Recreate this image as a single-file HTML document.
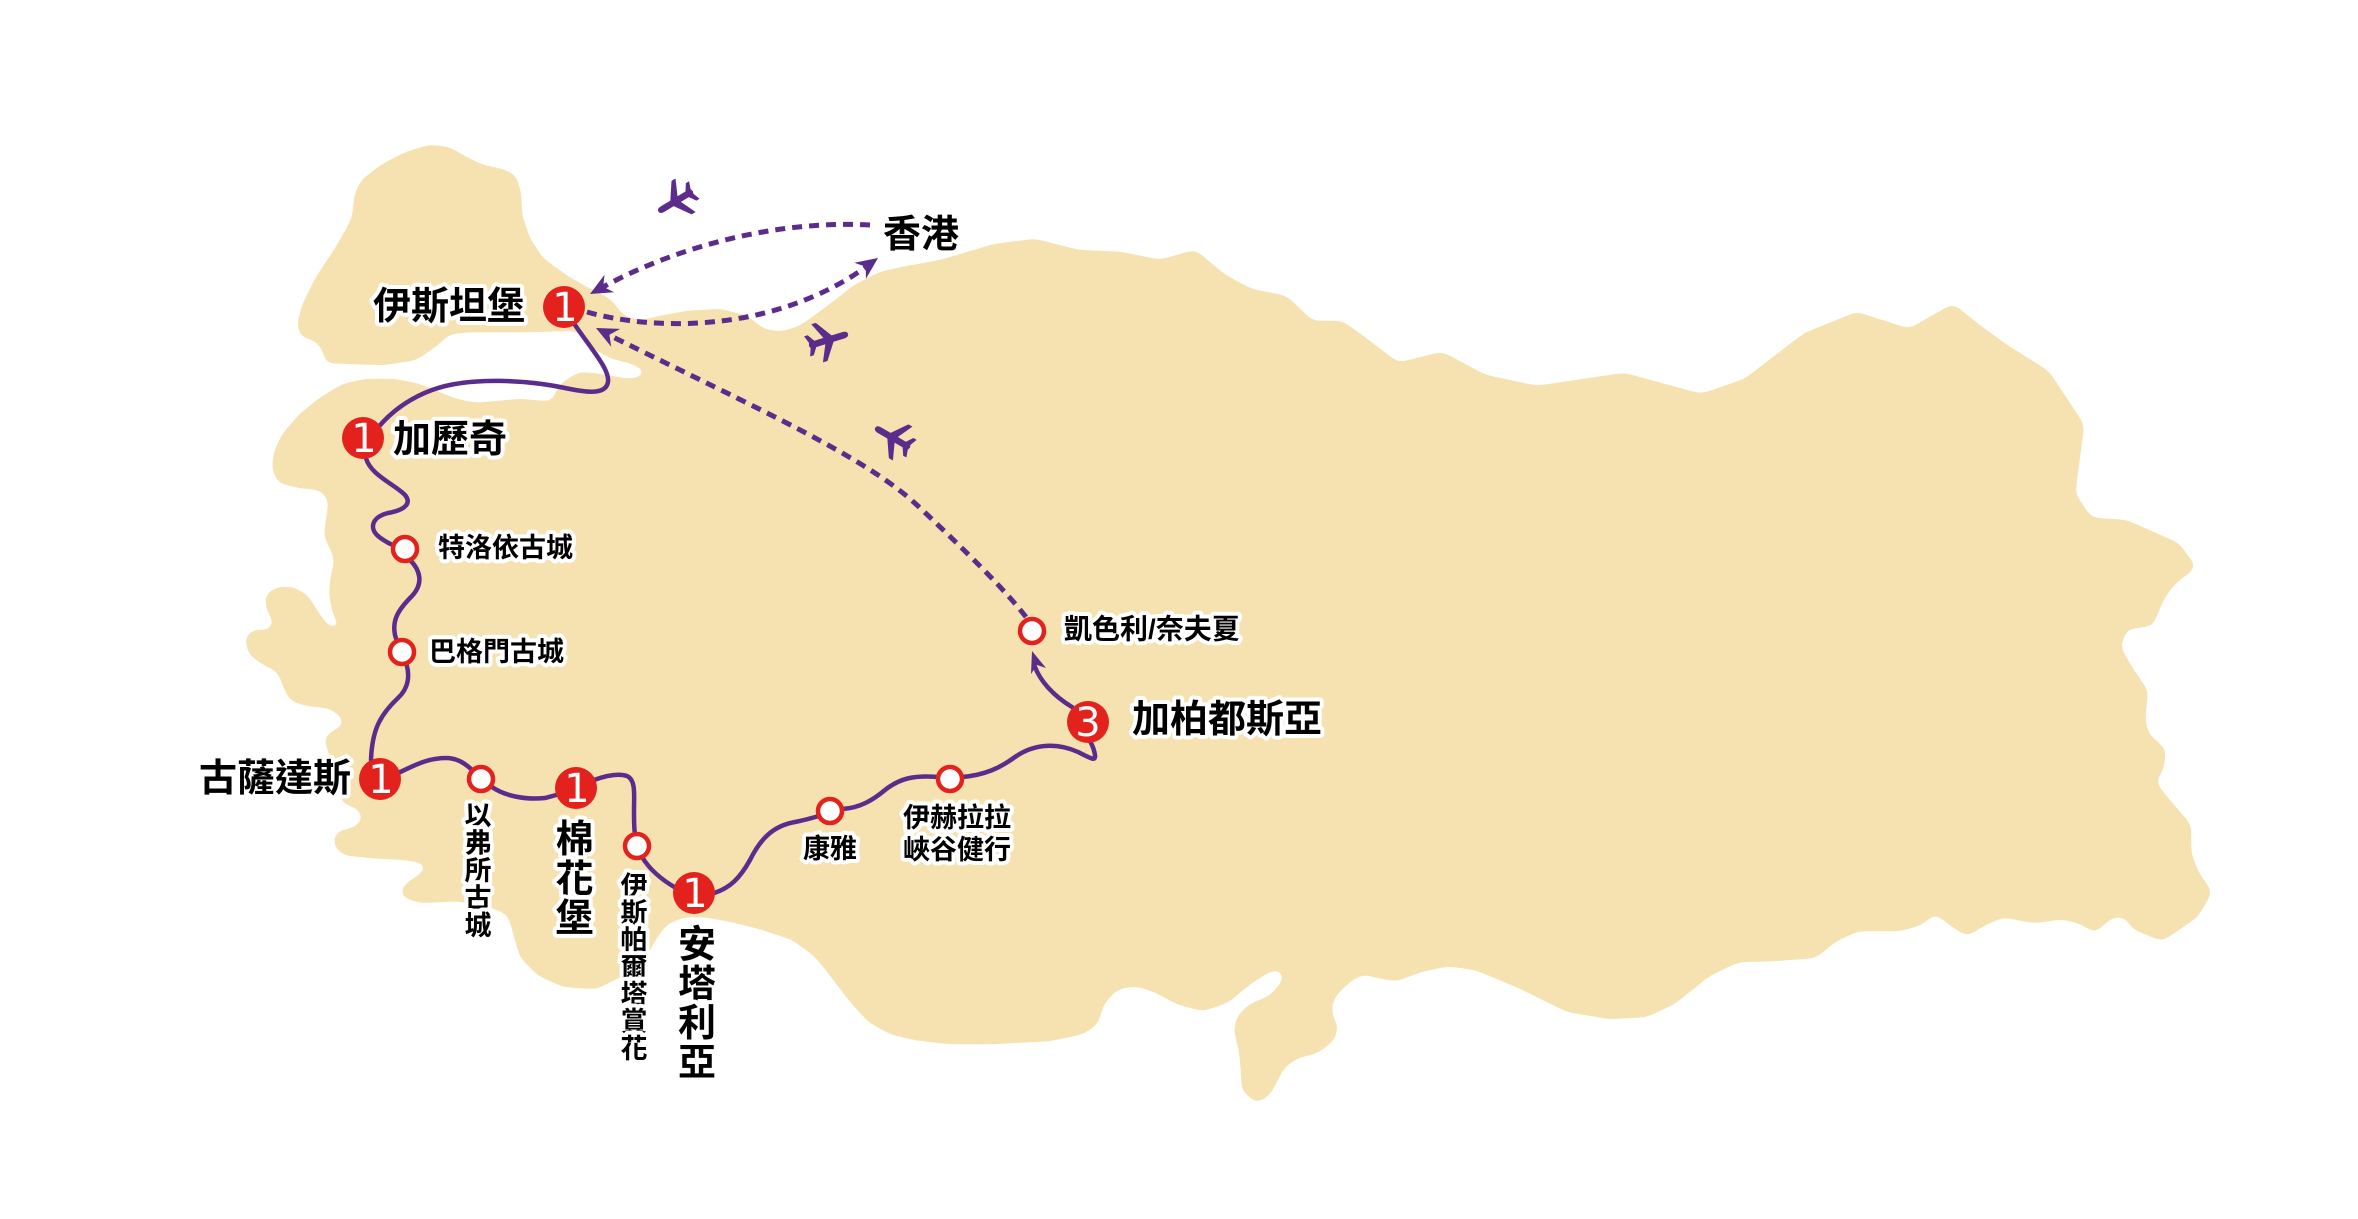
<!DOCTYPE html>
<html>
<head>
<meta charset="utf-8">
<style>
html,body{margin:0;padding:0;background:#fff;}
svg{display:block;}
.lb{font-family:"Liberation Sans","Noto Sans CJK TC","Noto Sans CJK SC",sans-serif;font-weight:700;fill:#000;stroke:#fff;stroke-width:8;stroke-linejoin:round;paint-order:stroke fill;dominant-baseline:central;}
.num{font-family:"DejaVu Sans","Liberation Sans",sans-serif;fill:#fff;font-size:40px;text-anchor:middle;dominant-baseline:central;}
</style>
</head>
<body>
<svg width="2358" height="1219" viewBox="0 0 2358 1219" xmlns="http://www.w3.org/2000/svg">
<defs>
<path id="plane" d="M22,0 C22,-2.5 20,-3.5 16,-3.5 L5,-3.5 L-7,-21 L-12,-21 L-4,-3.5 L-14,-3.5 L-19,-11 L-23,-11 L-20,-3 L-21,0 L-20,3 L-23,11 L-19,11 L-14,3.5 L-4,3.5 L-12,21 L-7,21 L5,3.5 L16,3.5 C20,3.5 22,2.5 22,0 Z"/>
<filter id="smooth" x="-5%" y="-5%" width="110%" height="110%" color-interpolation-filters="sRGB">
<feGaussianBlur in="SourceGraphic" stdDeviation="5" result="b"/>
<feColorMatrix in="b" type="matrix" values="0 0 0 0 0.961  0 0 0 0 0.886  0 0 0 0 0.690  0 0 0 24 -12"/>
</filter>
</defs>
<rect width="2358" height="1219" fill="#fff"/>

<!-- Map -->
<polygon filter="url(#smooth)" fill="#f5e2b0" stroke="#f5e2b0" stroke-width="3" stroke-linejoin="round" points="326,362 325,352 316,339 303,337 298,326 303,306 316,279 336,249 353,219 356,193 363,180 383,165 406,153 429,146 449,148 466,158 482,166 502,170 515,176 520,193 521,216 529,239 542,259 567,277 590,290 610,300 623,317 640,322 660,317 687,312 720,310 747,317 763,330 780,333 800,327 820,313 837,300 853,287 880,273 903,268 941,261 995,245 1035,240 1078,251 1121,253 1160,261 1195,251 1225,276 1251,290 1286,297 1312,322 1342,322 1364,338 1398,364 1442,353 1485,376 1537,387 1624,374 1701,395 1745,380 1805,334 1857,313 1909,330 1953,305 1979,326 2005,345 2048,372 2083,425 2074,494 2091,519 2126,521 2178,544 2195,567 2173,584 2162,600 2152,625 2126,628 2119,647 2133,671 2147,691 2144,718 2147,734 2165,750 2162,770 2154,782 2169,801 2190,825 2190,853 2197,872 2211,892 2197,916 2162,940 2133,928 2126,916 2112,916 2094,932 2084,924 2063,918 2034,922 2003,916 1985,924 1967,935 1950,924 1935,912 1921,924 1900,930 1858,930 1836,940 1815,957 1773,960 1738,961 1709,975 1674,1003 1646,1016 1610,1018 1568,1011 1519,987 1476,969 1448,965 1420,971 1397,980 1383,978 1363,973 1350,980 1333,997 1330,1013 1337,1027 1333,1040 1317,1052 1297,1057 1283,1067 1270,1093 1257,1102 1243,1090 1242,1070 1240,1050 1235,1030 1238,1017 1250,1005 1270,997 1283,983 1285,968 1270,970 1250,983 1227,1002 1203,1010 1177,1003 1157,992 1137,985 1117,988 1103,1003 1097,1023 1083,1033 1050,1040 992,1043 950,1043 915,1039 890,1033 869,1021 850,1000 831,975 815,955 793,939 760,928 732,921 705,916 685,916 668,922 657,935 646,955 635,968 614,979 596,988 564,986 539,975 521,957 514,932 509,914 493,907 457,900 421,902 402,896 404,886 421,875 432,864 407,859 371,857 343,854 334,843 338,832 354,829 364,821 361,809 343,802 338,785 333,765 329,750 325,739 332,732 345,727 343,716 329,707 307,705 291,700 284,686 279,671 264,664 250,654 246,639 254,630 264,632 273,629 275,621 268,611 266,596 277,588 293,588 307,596 318,614 329,629 345,630 334,614 330,593 332,575 336,561 332,550 325,536 327,521 330,500 321,489 300,487 279,482 273,468 275,452 283,435 300,415 320,399 343,385 366,380 393,380 416,384 436,392 456,400 475,404 499,402 520,400 542,402 553,403 557,392 563,383 580,373 600,375 627,380 643,378 648,373 647,370 633,363 610,357 593,347 587,337 577,330 560,330 530,331 500,331 470,331 449,333 436,345 416,359 383,364"/>

<!-- Planes -->
<g fill="#5b2c8c">
<use href="#plane" transform="translate(676,201) rotate(149) scale(0.93)"/>
<use href="#plane" transform="translate(828,340) rotate(-17) scale(0.95)"/>
<use href="#plane" transform="translate(893,438) rotate(-150) scale(0.93)"/>
</g>

<!-- Dashed flight lines -->
<g fill="none" stroke="#5b2c8c" stroke-width="5" stroke-dasharray="10 7">
<path d="M870,225 C 780,220 680,245 603,287"/>
<path d="M587,312 C 650,330 770,335 866,267"/>
<path d="M1026,617 C 1005,590 970,555 918,506 S 760,410 609,335"/>
</g>
<g fill="#5b2c8c">
<polygon points="590,294 614.1,292.3 603.2,286.8 604.5,274.7"/>
<polygon points="878,258 865.9,278.9 865.8,266.7 854.3,262.7"/>
<polygon points="596,328 620.2,328.9 609.4,334.7 611.2,346.7"/>
<polygon points="1032,651 1046,668 1037,665 1031,674"/>
</g>

<!-- Solid route -->
<g fill="none" stroke="#5b2c8c" stroke-width="4.5" stroke-linecap="round">
<path d="M575,325 C 592,350 610,370 608,382 C 606,394 590,393 570,389 C 530,380 470,376 432,390 C 405,400 388,415 376,430"/>
<path d="M366,458 C 370,474 392,483 404,494 C 413,503 405,510 388,513 C 372,517 369,528 378,536 C 384,541 390,544 395,546"/>
<path d="M410,560 C 420,570 424,583 412,596 C 398,610 392,620 395,635 L 398,645"/>
<path d="M406,663 C 410,675 409,688 398,698 C 380,715 372,730 371,760"/>
<path d="M398,773 C 410,768 425,758 446,758 C 458,758 466,764 472,770"/>
<path d="M492,787 C 505,796 525,800 545,798 L 560,794"/>
<path d="M594,780 C 605,776 618,773 627,776 C 636,780 634,795 634,810 C 634,822 634,830 635,834"/>
<path d="M642,857 C 650,870 662,880 676,888"/>
<path d="M714,893 C 730,888 740,878 750,860 C 760,840 772,826 795,822 C 805,820 812,818 819,816"/>
<path d="M842,809 C 860,808 873,800 885,790 C 900,778 915,775 938,777"/>
<path d="M962,777 C 985,775 1000,768 1015,757 C 1035,743 1058,743 1078,752 C 1090,758 1096,762 1095,755 C 1094,748 1092,745 1090,741"/>
<path d="M1072,707 C 1052,695 1040,680 1035,667"/>
</g>

<!-- Stop circles -->
<g fill="#fff" stroke="#e3211d" stroke-width="4.5">
<circle cx="405" cy="549" r="12"/>
<circle cx="402" cy="652" r="12"/>
<circle cx="481" cy="779" r="12"/>
<circle cx="637" cy="846" r="12"/>
<circle cx="830" cy="811" r="12"/>
<circle cx="950" cy="779" r="12"/>
<circle cx="1032" cy="631" r="12"/>
</g>

<!-- Red day circles -->
<g fill="#e3211d">
<circle cx="564" cy="307" r="21"/>
<circle cx="363" cy="438" r="21"/>
<circle cx="380" cy="779" r="21"/>
<circle cx="576" cy="788" r="21"/>
<circle cx="694" cy="893" r="21"/>
<circle cx="1088" cy="722" r="21"/>
</g>
<text class="num" x="565" y="308">1</text>
<text class="num" x="364" y="439">1</text>
<text class="num" x="381" y="780">1</text>
<text class="num" x="577" y="789">1</text>
<text class="num" x="695" y="894">1</text>
<text class="num" x="1088" y="723">3</text>

<!-- Labels -->
<text class="lb" x="373" y="307" font-size="38">伊斯坦堡</text>
<text class="lb" x="883" y="235" font-size="38">香港</text>
<text class="lb" x="393" y="440" font-size="38">加歷奇</text>
<text class="lb" x="438" y="548" font-size="27">特洛依古城</text>
<text class="lb" x="429" y="652" font-size="27">巴格門古城</text>
<text class="lb" x="199" y="779" font-size="38">古薩達斯</text>
<text class="lb" x="803" y="849" font-size="27">康雅</text>
<text class="lb" x="903" y="818" font-size="27">伊赫拉拉</text>
<text class="lb" x="903" y="850" font-size="27">峽谷健行</text>
<text class="lb" x="1132" y="720" font-size="38">加柏都斯亞</text>
<text class="lb" x="1064" y="629" font-size="28">凱色利/奈夫夏</text>

<!-- Vertical labels -->
<text class="lb" x="478" y="816" font-size="27" text-anchor="middle">以</text>
<text class="lb" x="478" y="843.5" font-size="27" text-anchor="middle">弗</text>
<text class="lb" x="478" y="871" font-size="27" text-anchor="middle">所</text>
<text class="lb" x="478" y="898.5" font-size="27" text-anchor="middle">古</text>
<text class="lb" x="478" y="926" font-size="27" text-anchor="middle">城</text>

<text class="lb" x="574.5" y="840" font-size="38" text-anchor="middle">棉</text>
<text class="lb" x="574.5" y="880" font-size="38" text-anchor="middle">花</text>
<text class="lb" x="574.5" y="919" font-size="38" text-anchor="middle">堡</text>

<text class="lb" x="634" y="886.5" font-size="27" text-anchor="middle">伊</text>
<text class="lb" x="634" y="913.6" font-size="27" text-anchor="middle">斯</text>
<text class="lb" x="634" y="940.7" font-size="27" text-anchor="middle">帕</text>
<text class="lb" x="634" y="967.8" font-size="27" text-anchor="middle">爾</text>
<text class="lb" x="634" y="994.9" font-size="27" text-anchor="middle">塔</text>
<text class="lb" x="634" y="1022" font-size="27" text-anchor="middle">賞</text>
<text class="lb" x="634" y="1049" font-size="27" text-anchor="middle">花</text>

<text class="lb" x="697" y="945.5" font-size="38" text-anchor="middle">安</text>
<text class="lb" x="697" y="984.8" font-size="38" text-anchor="middle">塔</text>
<text class="lb" x="697" y="1024.1" font-size="38" text-anchor="middle">利</text>
<text class="lb" x="697" y="1063.5" font-size="38" text-anchor="middle">亞</text>
</svg>
</body>
</html>
